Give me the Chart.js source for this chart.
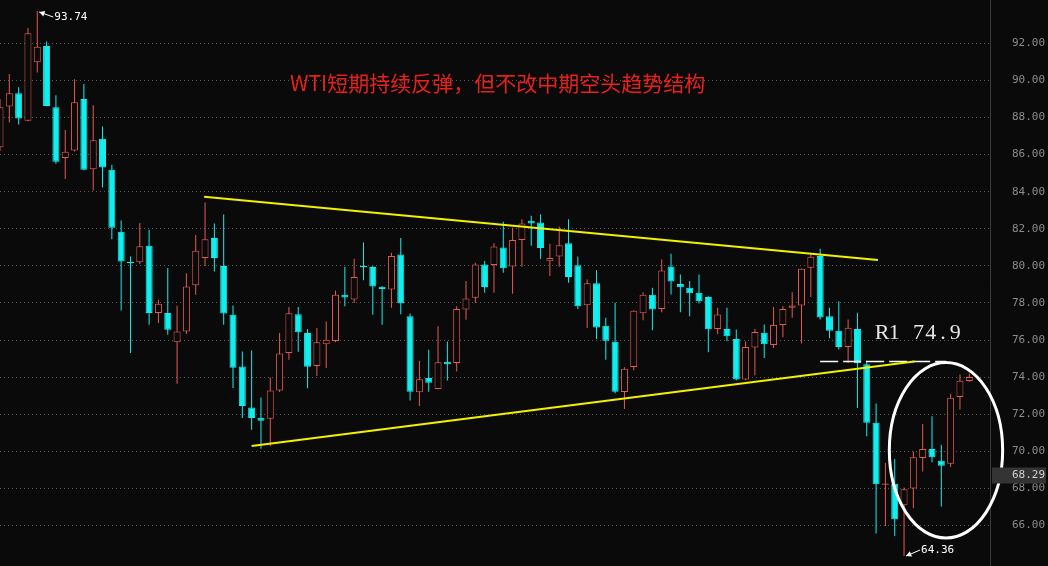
<!DOCTYPE html>
<html>
<head>
<meta charset="utf-8">
<script src="https://cdn.jsdelivr.net/npm/chart.js@4.4.1/dist/chart.umd.min.js"></script>
<style>
  html, body { margin: 0; padding: 0; background: #0a0a0a; overflow: hidden; }
  canvas { display: block; }
</style>
</head>
<body>
<canvas id="kline" width="1048" height="566"></canvas>
<script>
// daily candles, left to right (index = bar number)
const opens = [
  86.40, 88.59, 89.31, 87.83, 90.98, 91.86, 88.55, 85.81, 86.22, 89.00,
  85.21, 86.85, 85.18, 81.84, 80.22, 80.19, 81.08, 77.46, 77.46, 75.88,
  76.47, 78.95, 80.43, 81.51, 79.99, 77.36, 74.58, 72.36, 71.82, 71.76,
  73.28, 75.30, 77.39, 76.38, 74.61, 75.77, 75.95, 78.44, 78.19, 80.00,
  79.94, 78.87, 78.73, 80.61, 77.29, 73.19, 73.96, 73.37, 74.83, 74.76,
  77.65, 78.28, 80.08, 80.05, 80.99, 79.97, 81.40, 82.43, 82.34, 80.25,
  80.50, 81.22, 80.03, 77.88, 79.06, 76.78, 75.91, 73.20, 74.55, 77.45,
  78.44, 77.68, 79.97, 79.03, 78.82, 78.55, 78.33, 76.60, 76.60, 76.06,
  73.87, 75.60, 76.39, 75.74, 76.82, 77.74, 77.87, 79.90, 80.53, 77.29,
  76.50, 75.63, 76.60, 74.70, 71.54, 68.20, 68.25, 67.10, 68.00, 69.64,
  70.13, 69.50, 69.34, 72.93, 73.79
];
const highs = [
  89.00, 90.35, 89.63, 92.83, 93.74, 92.10, 89.20, 87.33, 90.06, 89.81,
  88.66, 87.51, 85.45, 82.45, 80.51, 82.31, 81.95, 78.18, 79.88, 77.85,
  79.61, 81.66, 83.42, 82.29, 82.77, 77.86, 75.39, 75.44, 72.90, 73.98,
  76.38, 77.79, 77.79, 76.60, 76.65, 77.00, 78.67, 79.96, 80.39, 81.26,
  80.00, 78.90, 80.71, 81.51, 77.43, 74.88, 75.48, 76.74, 75.93, 77.83,
  79.18, 80.17, 80.26, 81.22, 82.38, 82.05, 82.52, 82.70, 82.77, 81.20,
  82.12, 82.52, 80.50, 79.27, 79.76, 77.20, 78.01, 74.54, 77.61, 78.58,
  78.82, 80.35, 80.65, 79.54, 79.18, 79.54, 78.37, 77.74, 77.74, 76.57,
  75.92, 76.60, 76.84, 77.79, 77.83, 78.58, 79.86, 80.71, 80.92, 77.74,
  78.10, 77.11, 77.47, 74.88, 72.58, 69.37, 69.59, 68.05, 69.99, 71.48,
  71.90, 70.36, 73.11, 74.14, 74.20
];
const lows = [
  86.20, 87.73, 87.62, 87.80, 90.42, 88.60, 85.50, 84.69, 86.17, 85.15,
  84.06, 84.23, 81.44, 77.60, 75.30, 80.10, 76.83, 76.92, 76.29, 73.65,
  76.33, 78.44, 79.99, 79.70, 76.83, 73.42, 71.80, 71.17, 70.14, 70.28,
  73.20, 74.94, 75.37, 73.41, 74.07, 74.49, 75.88, 77.83, 78.00, 79.22,
  77.36, 76.83, 77.74, 77.39, 72.74, 72.45, 73.21, 73.35, 73.82, 74.31,
  77.10, 78.00, 78.55, 78.55, 79.63, 78.50, 79.96, 81.08, 80.37, 79.45,
  79.96, 79.09, 77.68, 76.65, 76.06, 74.94, 73.13, 72.29, 74.38, 77.07,
  76.53, 77.50, 78.46, 77.50, 77.29, 77.97, 75.35, 76.32, 75.94, 73.83,
  73.83, 74.10, 75.04, 75.58, 76.15, 77.20, 75.82, 78.33, 77.11, 76.10,
  75.49, 74.77, 72.34, 70.82, 65.58, 65.98, 65.44, 64.36, 66.94, 68.92,
  69.41, 67.03, 69.16, 72.26, 73.75
];
const closes = [
  88.55, 89.31, 87.94, 92.54, 91.82, 88.62, 85.61, 86.16, 88.82, 85.18,
  86.78, 85.30, 82.05, 80.24, 80.15, 81.06, 77.46, 77.96, 76.56, 76.47,
  78.89, 80.81, 81.44, 80.43, 77.43, 74.51, 72.45, 71.80, 71.65, 73.28,
  75.28, 77.45, 76.42, 74.56, 75.88, 76.02, 78.44, 78.30, 79.40, 79.93,
  78.89, 78.76, 80.53, 77.99, 73.21, 73.89, 73.70, 74.81, 74.70, 77.68,
  78.24, 80.08, 78.86, 81.04, 79.87, 81.40, 82.29, 82.29, 80.97, 80.43,
  81.11, 79.40, 77.83, 79.06, 76.68, 75.97, 73.21, 74.45, 77.58, 78.44,
  77.65, 79.75, 79.16, 78.85, 78.53, 78.10, 76.59, 77.38, 76.21, 73.87,
  75.63, 76.44, 75.78, 76.82, 77.68, 77.87, 79.84, 80.49, 77.22, 76.50,
  75.63, 76.66, 74.77, 71.54, 68.23, 68.26, 66.34, 67.96, 69.68, 70.13,
  69.68, 69.23, 72.89, 73.81, 74.01
];
// right axis tick labels
const priceTicks = [66, 68, 70, 72, 74, 76, 78, 80, 82, 84, 86, 88, 90, 92];

// drawn annotations (bar index, price)
const upperTrend = [[21.9, 83.73], [94.2, 80.32]];
const lowerTrend = [[27.0, 70.29], [98.1, 74.84]];
const r1Line = [[88.0, 74.85], [101.5, 74.85]];
const r1Label = 'R1 74.9';
const title = 'WTI短期持续反弹，但不改中期空头趋势结构';
const lastTag = '68.29';

const RED = '#e65a50';
const CYAN = '#12eeee';
const BG = '#0a0a0a';
const STEP = 9.32;          // px per bar
const PLOT_W = 990;

const idx = opens.map((_, i) => i);
const rising = idx.map(i => closes[i] >= opens[i]);

const wickData = idx.map(i => ({ x: i, y: [lows[i], highs[i]] }));
const bodyData = idx.map(i => {
  let a = opens[i], b = closes[i];
  if (Math.abs(a - b) < 0.07) b = a + (rising[i] ? 0.07 : -0.07);
  return { x: i, y: [a, b] };
});

function pts(arr) { return arr.map(p => ({ x: p[0], y: p[1] })); }

// extra drawing: background, texts, circle, arrows
const overlay = {
  id: 'overlay',
  beforeDraw(chart) {
    const ctx = chart.ctx;
    ctx.save();
    ctx.fillStyle = BG;
    ctx.fillRect(0, 0, chart.width, chart.height);
    ctx.restore();
  },
  afterDraw(chart) {
    const ctx = chart.ctx;
    const xs = chart.scales.x, ys = chart.scales.y;
    ctx.save();

    // title
    ctx.font = '21px "Noto Sans CJK SC"';
    ctx.fillStyle = '#e8201c';
    ctx.textBaseline = 'middle';
    ctx.fillText(title, 290, 83);

    // R1 label, fixed pitch
    ctx.font = '22px "Liberation Serif"';
    ctx.fillStyle = '#e6e6e6';
    ctx.textAlign = 'center';
    ctx.textBaseline = 'alphabetic';
    for (let k = 0; k < r1Label.length; k++) {
      ctx.fillText(r1Label[k], 882 + k * 12.2, 339);
    }

    // circle round the rebound
    const cx = xs.getPixelForValue(101.5), cy = ys.getPixelForValue(70.06);
    const rx = xs.getPixelForValue(101.5 + 6.08) - cx;
    const ry = cy - ys.getPixelForValue(70.06 + 4.73);
    ctx.strokeStyle = '#ffffff';
    ctx.lineWidth = 3;
    ctx.beginPath();
    ctx.ellipse(cx, cy, rx, ry, 0, 0, Math.PI * 2);
    ctx.stroke();

    // high / low markers
    function marker(i, v, dy, label) {
      const tx = xs.getPixelForValue(i) + 2, ty = ys.getPixelForValue(v) + dy;
      const ex = tx + 14, ey = ty + (dy > 0 ? 5 : -6);
      const ang = Math.atan2(ey - ty, ex - tx);
      ctx.strokeStyle = '#ffffff';
      ctx.fillStyle = '#ffffff';
      ctx.lineWidth = 1;
      ctx.beginPath();
      ctx.moveTo(tx, ty);
      ctx.lineTo(ex, ey);
      ctx.stroke();
      ctx.beginPath();
      ctx.moveTo(tx, ty);
      ctx.lineTo(tx + 6 * Math.cos(ang - 0.5), ty + 6 * Math.sin(ang - 0.5));
      ctx.lineTo(tx + 6 * Math.cos(ang + 0.5), ty + 6 * Math.sin(ang + 0.5));
      ctx.closePath();
      ctx.fill();
      ctx.font = '11px "DejaVu Sans Mono"';
      ctx.textAlign = 'left';
      ctx.textBaseline = 'middle';
      ctx.fillText(label, ex + 1, ey);
    }
    marker(4, highs[4], 1, highs[4].toFixed(2));
    marker(97, lows[97], 0, lows[97].toFixed(2));

    // last price tag on the axis
    const tagY = ys.getPixelForValue(68.7);
    ctx.fillStyle = '#343434';
    ctx.fillRect(PLOT_W + 2, tagY - 8, 54, 16);
    ctx.fillStyle = '#d0d0d0';
    ctx.font = '11px "DejaVu Sans Mono"';
    ctx.textAlign = 'left';
    ctx.textBaseline = 'middle';
    ctx.fillText(lastTag, 1012, tagY);

    ctx.restore();
  }
};

const ctx = document.getElementById('kline').getContext('2d');
new Chart(ctx, {
  type: 'bar',
  data: {
    datasets: [
      {
        type: 'line',
        data: pts(upperTrend),
        borderColor: '#f2f200',
        borderWidth: 2,
        pointRadius: 0,
        order: 0
      },
      {
        type: 'line',
        data: pts(lowerTrend),
        borderColor: '#f2f200',
        borderWidth: 2,
        pointRadius: 0,
        order: 0
      },
      {
        type: 'line',
        data: pts(r1Line),
        borderColor: '#ffffff',
        borderWidth: 1.5,
        borderDash: [18, 5],
        pointRadius: 0,
        order: 1
      },
      {
        data: bodyData,
        backgroundColor: idx.map(i => rising[i] ? BG : CYAN),
        borderColor: idx.map(i => rising[i] ? RED : CYAN),
        borderWidth: 1,
        borderSkipped: false,
        barThickness: 7,
        inflateAmount: 0,
        grouped: false,
        order: 2
      },
      {
        data: wickData,
        backgroundColor: idx.map(i => rising[i] ? RED : CYAN),
        borderWidth: 0,
        borderSkipped: false,
        barThickness: 1,
        inflateAmount: 0,
        grouped: false,
        order: 3
      }
    ]
  },
  options: {
    responsive: false,
    animation: false,
    devicePixelRatio: 1,
    layout: { padding: 0 },
    plugins: {
      legend: { display: false },
      tooltip: { enabled: false }
    },
    scales: {
      x: {
        type: 'linear',
        display: false,
        offset: false,
        min: 0,
        max: PLOT_W / STEP,
        grid: { display: false }
      },
      y: {
        position: 'right',
        min: 63.822,
        max: 94.334,
        beginAtZero: false,
        afterBuildTicks(scale) {
          scale.ticks = priceTicks.map(v => ({ value: v }));
        },
        afterFit(scale) {
          scale.width = 1048 - PLOT_W;
          scale.paddingTop = 0;
          scale.paddingBottom = 0;
        },
        grid: {
          color: '#5a5a5a',
          lineWidth: 1,
          drawTicks: false
        },
        border: {
          display: true,
          color: '#3a3a3a',
          width: 1,
          dash: [1, 3]
        },
        ticks: {
          padding: 22,
          color: '#8c8c8c',
          font: { family: 'DejaVu Sans Mono', size: 11 },
          callback: v => Number(v).toFixed(2)
        }
      }
    }
  },
  plugins: [overlay]
});
</script>
</body>
</html>
